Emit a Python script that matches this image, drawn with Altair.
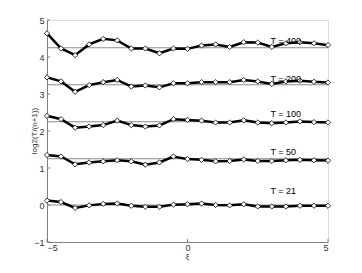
import altair as alt
import pandas as pd

xi = [-5, -4.5, -4, -3.5, -3, -2.5, -2, -1.5, -1, -0.5, 0, 0.5, 1, 1.5, 2, 2.5, 3, 3.5, 4, 4.5, 5]

t400 = [4.64, 4.23, 4.05, 4.34, 4.49, 4.45, 4.23, 4.23, 4.10, 4.23, 4.22, 4.31, 4.34, 4.27, 4.40, 4.39, 4.27, 4.37, 4.40, 4.37, 4.32]
t200 = [3.45, 3.34, 3.06, 3.24, 3.32, 3.38, 3.20, 3.23, 3.18, 3.29, 3.29, 3.32, 3.32, 3.32, 3.38, 3.34, 3.27, 3.34, 3.36, 3.33, 3.31]
t100 = [2.41, 2.32, 2.09, 2.12, 2.16, 2.28, 2.16, 2.12, 2.15, 2.32, 2.30, 2.28, 2.23, 2.23, 2.29, 2.23, 2.21, 2.23, 2.26, 2.24, 2.23]
t50 = [1.35, 1.31, 1.10, 1.15, 1.18, 1.21, 1.18, 1.09, 1.15, 1.31, 1.24, 1.22, 1.18, 1.19, 1.23, 1.19, 1.19, 1.21, 1.22, 1.21, 1.20]
t21 = [0.12, 0.08, -0.08, -0.01, 0.03, 0.04, -0.02, -0.05, -0.05, 0.01, 0.02, 0.04, 0.00, -0.01, 0.02, -0.04, -0.04, -0.04, -0.02, -0.02, -0.02]

series_names = ["T = 400", "T = 200", "T = 100", "T = 50", "T = 21"]
series_vals = [t400, t200, t100, t50, t21]
ref_levels = [4.25, 3.25, 2.25, 1.25, 0.0]
label_x = [2.95, 2.95, 2.95, 2.95, 2.95]
label_y = [4.43, 3.40, 2.45, 1.44, 0.37]

x_ticks = [-5, 0, 5]
y_ticks = [-1, 0, 1, 2, 3, 4, 5]
x_title = "ξ"
y_title = "log2(T/(n+1))"

rows = []
for name, vals in zip(series_names, series_vals):
    for x, v in zip(xi, vals):
        rows.append({"x": x, "y": v, "series": name})
df = pd.DataFrame(rows)

ref_df = pd.DataFrame({"series": series_names, "y": ref_levels, "x": [-5] * 5, "x1": [5] * 5})
lab_df = pd.DataFrame({"series": series_names, "x": label_x, "y": label_y})

W, H = 281, 222
xs = alt.Scale(domain=[-5, 5], nice=False)
ys = alt.Scale(domain=[-1, 5], nice=False)

xaxis = alt.Axis(values=x_ticks, ticks=False, grid=False, domainColor="#7f7f7f", labelOverlap=False,
                 labelColor="#333333", labelFontSize=9, labelPadding=1, labelFont="Liberation Sans",
                 title=None)
yaxis = alt.Axis(values=y_ticks, ticks=False, grid=False, domainColor="#7f7f7f", labelOverlap=False,
                 labelColor="#333333", labelFontSize=9, labelPadding=3, labelFont="Liberation Sans",
                 title=None)

X = alt.X("x:Q", scale=xs, axis=xaxis)
Y = alt.Y("y:Q", scale=ys, axis=yaxis)

ref = alt.Chart(ref_df).mark_rule(color="#8c8c8c", strokeWidth=1).encode(x=X, x2="x1:Q", y=Y)

lines = alt.Chart(df).mark_line(color="black", strokeWidth=2.5).encode(x=X, y=Y, detail="series:N")

pts = alt.Chart(df).mark_point(shape="diamond", filled=True, fill="white", stroke="black",
                               strokeWidth=0.8, size=28, opacity=1).encode(x=X, y=Y)

labels = alt.Chart(lab_df).mark_text(align="left", baseline="middle", fontSize=9,
                                     font="Liberation Sans", color="black").encode(x=X, y=Y, text="series:N")

xt = alt.Chart(pd.DataFrame({"x": x_ticks})).mark_rule(color="#7f7f7f", strokeWidth=1).encode(
    x=X, y=alt.value(H), y2=alt.value(H - 3)
)
yt = alt.Chart(pd.DataFrame({"y": y_ticks})).mark_rule(color="#7f7f7f", strokeWidth=1).encode(
    y=Y, x=alt.value(0), x2=alt.value(3)
)

xtitle = alt.Chart(pd.DataFrame({"t": [x_title]})).mark_text(
    fontSize=8, font="Liberation Sans", color="#333333", baseline="middle", align="center"
).encode(text="t:N", x=alt.value(W / 2), y=alt.value(H + 15))

ytitle = alt.Chart(pd.DataFrame({"t": [y_title]})).mark_text(
    fontSize=8, font="Liberation Sans", color="#333333", baseline="middle", align="center", angle=270
).encode(text="t:N", x=alt.value(-12), y=alt.value(H / 2))

chart = alt.layer(ref, lines, pts, labels, xt, yt, xtitle, ytitle).properties(
    width=W, height=H,
    autosize=alt.AutoSizeParams(type="none"),
    padding={"left": 39, "top": 12, "right": 20, "bottom": 30},
).configure_view(stroke=None).configure(background="white")

chart.save("out.html", embed_options={"renderer": "svg", "actions": False})
